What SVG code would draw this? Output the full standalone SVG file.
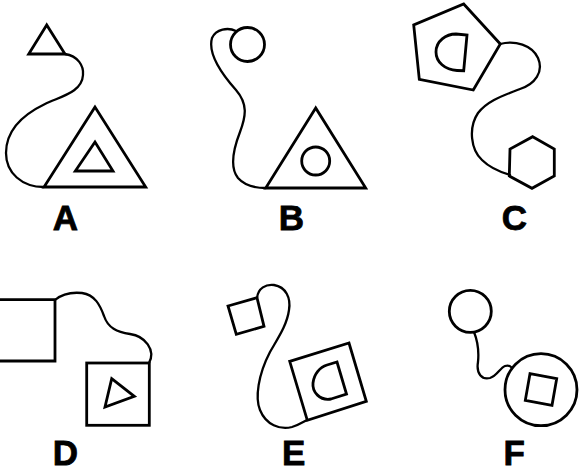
<svg xmlns="http://www.w3.org/2000/svg" width="579" height="474" viewBox="0 0 579 474">
<style>
.s{fill:none;stroke:#000;stroke-width:2.8;stroke-linejoin:miter}
.c{fill:none;stroke:#000;stroke-width:2.3;stroke-linecap:round}
.t{font-family:"Liberation Sans",Arial,sans-serif;font-weight:bold;font-size:35px;text-anchor:middle;fill:#000;stroke:#000;stroke-width:0.8}
</style>
<rect width="579" height="474" fill="#fff"/>
<g id="connectors">
<path class="c" d="M65,54 C78,56 84,66 83,75 C82,92 62,96 45,104 C20,116 6,133 6,153 C6,173 22,187 44,187"/>
<path class="c" d="M236,31 C228,27 216,29 212,38 C208,52 220,72 236,90 C248,104 246,116 240,132 C233,150 230,168 238,178 C245,186 255,188 266,188"/>
<path class="c" d="M500,44 C515,40 532,45 538,58 C544,72 535,84 520,89 C505,95 488,100 478,113 C468,128 471,150 482,160 C490,168 500,172 510,175"/>
<path class="c" d="M55,300 C62,294 72,292 82,293 C95,295 100,305 104,316 C108,328 117,332 130,334 C145,336 156,350 149,363"/>
<path class="c" d="M257,298 C258,288 266,284 274,285 C286,287 291,298 289,310 C287,325 278,338 270,352 C258,375 255,398 260,410 C266,425 280,430 292,427 C299,425 303,422 307,420"/>
<path class="c" d="M474,332 C478,342 479,352 478,362 C476,374 482,380 490,378 C497,376 500,368 505,366 C508,365 510,366 511,367"/>
</g>
<g id="A-small"><polygon class="s" points="46.7,25 28.7,54 65,54"/></g>
<g id="A-big"><polygon class="s" points="95,107 44,187 145.7,187"/><polygon class="s" points="95,142 75.3,171 113,171"/></g>
<g id="B-circle"><circle class="s" cx="247.5" cy="44.5" r="17"/></g>
<g id="B-big"><polygon class="s" points="315.7,108 265.7,188 365.7,188"/><circle class="s" cx="315.7" cy="161" r="14"/></g>
<g id="C-pentagon"><polygon class="s" points="463.7,4 500.3,44 473.3,90 419.3,79.3 413.7,25"/><path class="s" d="M467,35 L463.7,70.7 L457,70.5 C445,70 436,62 436,52 C436,41 446,34 456,34 Z"/></g>
<g id="C-hexagon"><polygon class="s" points="532.7,136.7 554.3,149 554.3,176 532,188.3 509.3,176 510,149"/></g>
<g id="D-rect"><polygon class="s" points="-10,299.7 55,299.7 55,361 -10,361"/></g>
<g id="D-square"><rect class="s" x="86.7" y="363" width="62.6" height="62.3"/><polygon class="s" points="111.7,378.7 134.3,396.3 105,407"/></g>
<g id="E-small"><polygon class="s" points="228,306 257,297.7 264,326.3 236.3,334.3"/></g>
<g id="E-big"><polygon class="s" points="289.7,361.3 349,343 366.3,401.3 307.3,420.3"/><path class="s" d="M337,362 L346.5,394 L331,399 C320,401 312,392 313,383 C314,374 320,367 327,365 Z"/></g>
<g id="F-circle"><circle class="s" cx="470.3" cy="311.3" r="21"/></g>
<g id="F-big"><circle class="s" cx="541" cy="389.7" r="36"/><polygon class="s" points="530,373.7 556.7,378.7 552,405.3 525.3,400.3"/></g>
<g id="labels">
<text class="t" x="65.5" y="230">A</text>
<text class="t" x="291.3" y="230">B</text>
<text class="t" x="514.3" y="230">C</text>
<text class="t" x="65.3" y="465">D</text>
<text class="t" x="293.7" y="465">E</text>
<text class="t" x="514.3" y="465">F</text>
</g>
</svg>
